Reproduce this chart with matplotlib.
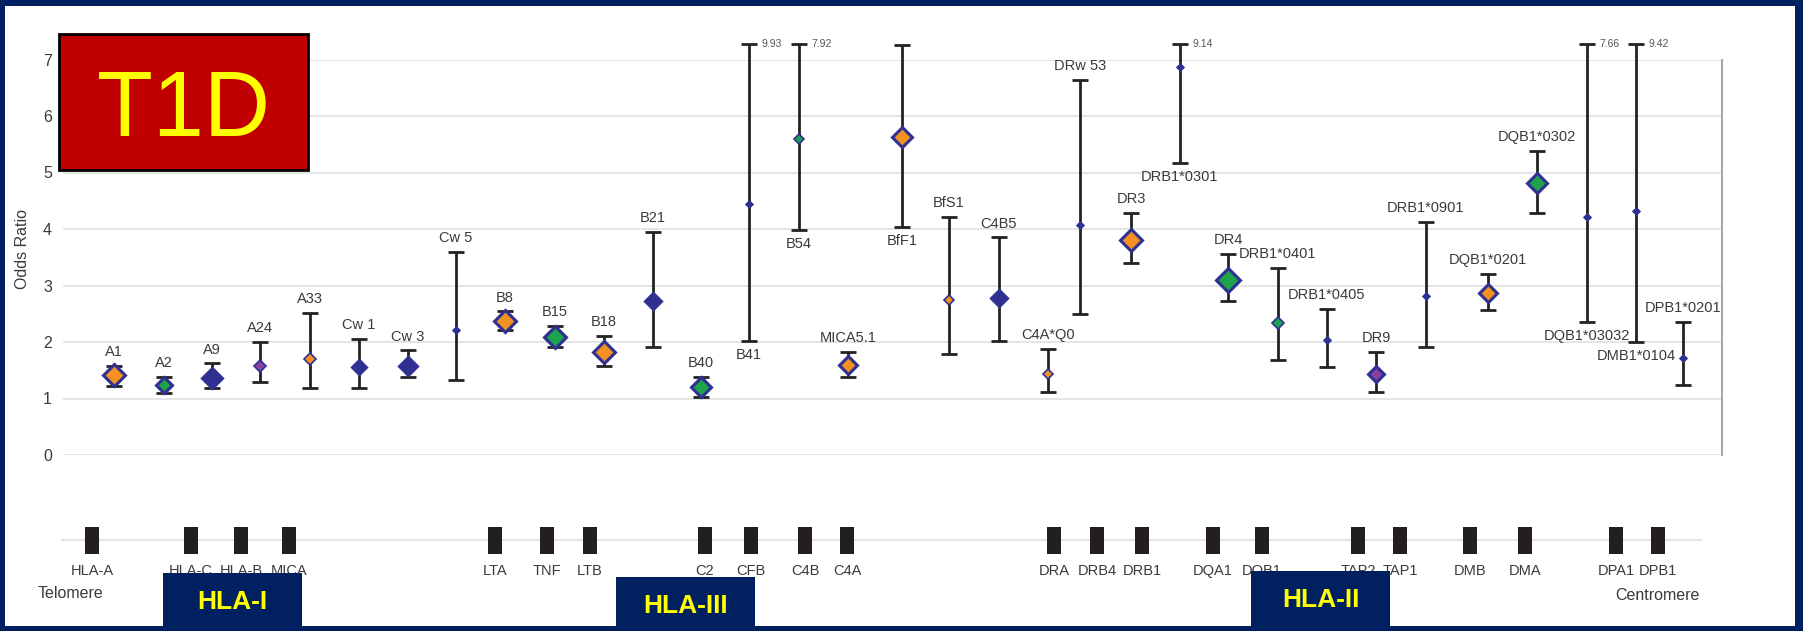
import matplotlib
matplotlib.use("Agg")
import matplotlib.pyplot as plt
from matplotlib.patches import Rectangle
import numpy as np

plt.rcParams['font.family'] = ['Liberation Sans', 'DejaVu Sans']

# ---- odds ratios (allele, position along the MHC map, OR and 95% CI) ----
alleles = ["A1", "A2", "A9", "A24", "A33", "Cw 1", "Cw 3", "Cw 5", "B8", "B15", "B18",
           "B21", "B40", "B41", "B54", "MICA5.1", "BfF1", "BfS1", "C4B5", "C4A*Q0",
           "DRw 53", "DR3", "DRB1*0301", "DR4", "DRB1*0401", "DRB1*0405", "DR9",
           "DRB1*0901", "DQB1*0201", "DQB1*0302", "DQB1*03032", "DMB1*0104", "DPB1*0201"]
locus_x = [114, 164, 212, 260, 310, 359, 408, 456, 505, 555, 604,
           653, 701, 749, 799, 848, 902, 949, 999, 1048,
           1080, 1131, 1180, 1228, 1278, 1327, 1376,
           1426, 1488, 1537, 1587, 1636, 1683]
odds = [1.41, 1.24, 1.37, 1.58, 1.70, 1.55, 1.58, 2.21, 2.38, 2.09, 1.82,
        2.72, 1.21, 4.45, 5.60, 1.59, 5.63, 2.75, 2.78, 1.44,
        4.07, 3.81, 6.86, 3.10, 2.34, 2.03, 1.44,
        2.81, 2.86, 4.81, 4.22, 4.31, 1.71]
ci_low = [1.22, 1.09, 1.18, 1.29, 1.18, 1.18, 1.38, 1.32, 2.21, 1.91, 1.58,
          1.91, 1.03, 2.02, 3.98, 1.38, 4.04, 1.79, 2.02, 1.12,
          2.49, 3.39, 5.16, 2.72, 1.68, 1.56, 1.12,
          1.91, 2.57, 4.28, 2.35, 2.00, 1.24]
ci_high = [1.58, 1.38, 1.62, 2.00, 2.51, 2.05, 1.85, 3.59, 2.54, 2.29, 2.11,
           3.95, 1.38, 9.93, 7.92, 1.82, 7.25, 4.21, 3.85, 1.88,
           6.63, 4.28, 9.14, 3.55, 3.31, 2.59, 1.82,
           4.13, 3.21, 5.38, 7.66, 9.42, 2.35]
label_side = ["a"] * len(alleles)
for name in ["B41", "B54", "BfF1", "DRB1*0301", "DQB1*03032", "DMB1*0104"]:
    label_side[alleles.index(name)] = "b"

# marker fill group and size
fill_group = ["o", "g", "n", "p", "o", "n", "n", "n", "o", "g", "o",
              "n", "g", "n", "g", "o", "o", "o", "n", "o",
              "n", "o", "n", "g", "g", "n", "p",
              "n", "o", "g", "n", "n", "n"]
marker_ms = [11, 8, 10, 6.5, 6, 7.5, 9.5, 3.5, 11, 11, 11,
             8, 10, 3.5, 5.5, 9, 10, 5.5, 8, 5.5,
             3.5, 11.5, 3.5, 12, 6, 3.5, 8.5,
             3.5, 9.5, 10, 3.5, 3.5, 3.5]

# ---- gene map ----
genes = ["HLA-A", "HLA-C", "HLA-B", "MICA", "LTA", "TNF", "LTB", "C2", "CFB", "C4B", "C4A",
         "DRA", "DRB4", "DRB1", "DQA1", "DQB1", "TAP2", "TAP1", "DMB", "DMA", "DPA1", "DPB1"]
gene_x = [92, 191, 241, 289, 495, 547, 590, 705, 751, 805, 847,
          1054, 1097, 1142, 1213, 1262, 1358, 1400, 1470, 1525, 1616, 1658]
regions = ["HLA-I", "HLA-III", "HLA-II"]
region_left = [163, 616, 1251]
region_right = [302, 755, 1390]
region_top = [573, 577, 571]

NAVY = "#002060"
colors = {"o": "#f39221", "g": "#1ea24b", "n": "#2e3192", "p": "#8b3fa3"}
EDGE = "#2e3192"
TXT = "#3a3a3a"
Y_CAP = 7.27

W, H = 1803, 631
fig = plt.figure(figsize=(W / 100, H / 100), dpi=100, facecolor=NAVY)

# background / gene map layer in pixel coordinates
bg = fig.add_axes([0, 0, 1, 1], zorder=0)
bg.set_xlim(0, W)
bg.set_ylim(H, 0)
bg.axis("off")
bg.add_patch(Rectangle((5, 6), 1790, 620, facecolor="white", edgecolor="none"))
bg.plot([62, 1701], [540, 540], color="#e6e6e6", lw=1.6, zorder=1)
bg.bar(gene_x, 27, bottom=527, width=14, color="#231f20", zorder=2)
for g, gx in zip(genes, gene_x):
    bg.text(gx, 571, g, ha="center", va="center", fontsize=10.5, color=TXT)
bg.text(38, 593, "Telomere", ha="left", va="center", fontsize=11.5, color=TXT)
bg.text(1700, 596, "Centromere", ha="right", va="center", fontsize=11.5, color=TXT)

# odds ratio panel
ax = fig.add_axes([63 / W, (H - 455) / H, (1722 - 63) / W, (455 - 59.5) / H], zorder=1)
ax.patch.set_alpha(0)
ax.set_xlim(63, 1722)
ax.set_ylim(0, 7)
ax.set_yticks(range(8))
ax.set_xticks([])
ax.tick_params(axis="y", length=0, pad=8, labelsize=11.5, labelcolor=TXT)
ax.yaxis.grid(True, color="#e3e3e3", lw=1.3)
ax.set_axisbelow(True)
for s in ["left", "top", "bottom"]:
    ax.spines[s].set_visible(False)
ax.spines["right"].set_color("#a8a8a8")
ax.spines["right"].set_linewidth(1.5)
ax.set_ylabel("Odds Ratio", fontsize=11.5, color=TXT)
ax.yaxis.set_label_coords(-0.020, 0.52)

x = np.array(locus_x, dtype=float)
y = np.array(odds)
lo = np.array(ci_low)
hi = np.minimum(np.array(ci_high), Y_CAP)
ax.errorbar(x, y, yerr=[y - lo, hi - y], fmt="none", ecolor="#222222",
            elinewidth=2, capsize=6, capthick=2, clip_on=False, zorder=2)
for xi, yi, grp, ms in zip(x, y, fill_group, marker_ms):
    ax.plot(xi, yi, "D", ms=ms, mfc=colors[grp], mec=EDGE,
            mew=2.2 if ms > 7 else 1.2, zorder=3, clip_on=False)

for name, xi, l, h, side in zip(alleles, x, lo, hi, label_side):
    if side == "a":
        ax.annotate(name, (xi, h), xytext=(0, 5), textcoords="offset points",
                    ha="center", va="bottom", fontsize=10.5, color=TXT)
    else:
        ax.annotate(name, (xi, l), xytext=(0, -5), textcoords="offset points",
                    ha="center", va="top", fontsize=10.5, color=TXT)

for xi, true_hi in zip(x, ci_high):
    if true_hi > Y_CAP + 0.1:
        ax.annotate(f"{true_hi:.2f}", (xi, Y_CAP), xytext=(9, 0), textcoords="offset points",
                    ha="left", va="center", fontsize=7.5, color="#555555",
                    annotation_clip=False)

# overlay: title box and region boxes
ov = fig.add_axes([0, 0, 1, 1], zorder=3)
ov.set_xlim(0, W)
ov.set_ylim(H, 0)
ov.axis("off")
ov.patch.set_alpha(0)
ov.add_patch(Rectangle((59, 34), 249, 136, facecolor="#c00000", edgecolor="black", lw=2))
ov.text(183.5, 103, "T1D", ha="center", va="center_baseline", fontsize=66, color="#ffff00")
for name, l, r, t in zip(regions, region_left, region_right, region_top):
    ov.add_patch(Rectangle((l, t), r - l, H - t, facecolor=NAVY, edgecolor="none"))
    ov.text((l + r) / 2, t + 29, name, ha="center", va="center", fontsize=19,
            fontweight="bold", color="#ffff00")

fig.savefig("out.png", dpi=100, facecolor=NAVY)
